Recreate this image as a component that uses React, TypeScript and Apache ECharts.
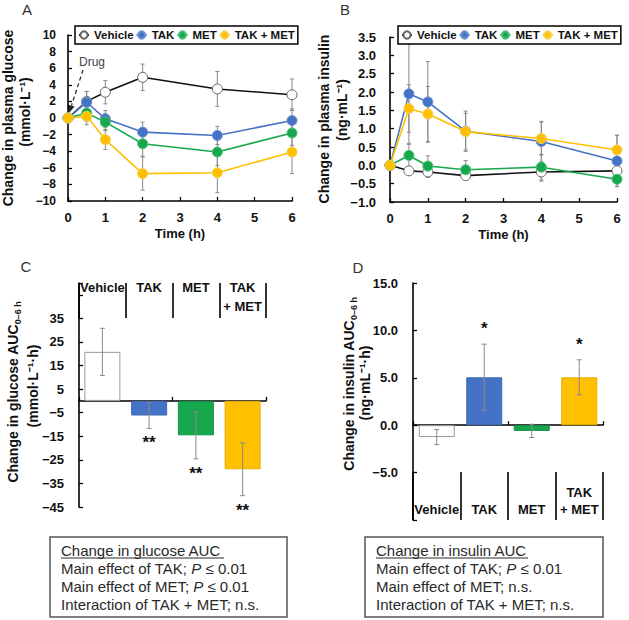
import React, { useEffect, useRef } from 'react';
import * as echarts from 'echarts';

const FONT = '"Liberation Sans", Arial, Helvetica, sans-serif';

// ---- Data ----
const times = [0, 0.5, 1, 2, 4, 6];
const groups = ['Vehicle', 'TAK', 'MET', 'TAK + MET'];
const barCategories = ['Vehicle', 'TAK', 'MET', 'TAK\n+ MET'];

const glucoseVehicle = [0, 2.0, 3.1, 4.9, 3.5, 2.8];
const glucoseVehicleErr = [0, 1.2, 1.4, 1.6, 2.1, 1.9];
const glucoseTak = [0, 1.9, -0.1, -1.7, -2.1, -0.3];
const glucoseTakErr = [0, 1.3, 1.0, 1.2, 1.1, 1.4];
const glucoseMet = [0, 0.6, -0.5, -3.1, -4.1, -1.8];
const glucoseMetErr = [0, 1.0, 1.0, 1.5, 1.6, 1.5];
const glucoseCombo = [0, 0.2, -2.6, -6.7, -6.6, -4.1];
const glucoseComboErr = [0, 1.0, 1.2, 2.0, 2.4, 2.6];

const insulinVehicle = [0, -0.15, -0.18, -0.28, -0.18, -0.15];
const insulinVehicleErr = [0, 0.12, 0.15, 0.1, 0.25, 0.1];
const insulinTak = [0, 1.95, 1.73, 0.93, 0.65, 0.12];
const insulinTakErr = [0, 1.35, 1.1, 0.55, 0.55, 0.7];
const insulinMet = [0, 0.27, -0.02, -0.12, -0.05, -0.38];
const insulinMetErr = [0, 0.3, 0.28, 0.25, 0.35, 0.2];
const insulinCombo = [0, 1.55, 1.4, 0.92, 0.73, 0.42];
const insulinComboErr = [0, 0.65, 0.75, 0.5, 0.45, 0.4];

const glucoseAuc = [20.8, -6.2, -14.6, -29.0];
const glucoseAucErr = [10, 5.5, 10, 11.2];
const glucoseAucSig = ['', '**', '**', '**'];
const insulinAuc = [-1.25, 5.05, -0.6, 5.05];
const insulinAucErr = [0.8, 3.5, 0.7, 1.85];
const insulinAucSig = ['', '*', '', '*'];

const glucoseTicks = { min: -10, max: 10, interval: 2 };
const insulinTicks = { min: -1, max: 3.5, interval: 0.5 };
const glucoseAucTicks = { min: -45, max: 50, interval: 10 };
const insulinAucTicks = { min: -10, max: 15, interval: 5 };

// ---- Styles ----
const BLUE = '#4472C4';
const GREEN = '#17A84E';
const YELLOW = '#FFC000';
const ERR = '#8a8a8a';

const minus = (s: string) => s.replace('-', '\u2212');

function lineSeries(name: string, values: number[], idx: number, line: string, fill: string, border: string) {
  return {
    type: 'line',
    name,
    xAxisIndex: idx,
    yAxisIndex: idx,
    data: times.map((t, i) => [t, values[i]]),
    symbol: 'circle',
    symbolSize: 10,
    lineStyle: { color: line, width: 1.6 },
    itemStyle: { color: fill, borderColor: border, borderWidth: 1 },
    z: 3,
    silent: true,
  };
}

function errLineSeries(values: number[], errs: number[], idx: number) {
  return {
    type: 'custom',
    xAxisIndex: idx,
    yAxisIndex: idx,
    silent: true,
    z: 2,
    data: times.map((t, i) => [t, values[i] - errs[i], values[i] + errs[i]]),
    renderItem: (params: any, api: any) => {
      const x = api.value(0);
      const lo = api.coord([x, api.value(1)]);
      const hi = api.coord([x, api.value(2)]);
      if (Math.abs(lo[1] - hi[1]) < 0.5) return null;
      const st = { stroke: ERR, lineWidth: 1 };
      const c = 2;
      return {
        type: 'group',
        children: [
          { type: 'line', shape: { x1: lo[0], y1: lo[1], x2: hi[0], y2: hi[1] }, style: st },
          { type: 'line', shape: { x1: lo[0] - c, y1: lo[1], x2: lo[0] + c, y2: lo[1] }, style: st },
          { type: 'line', shape: { x1: hi[0] - c, y1: hi[1], x2: hi[0] + c, y2: hi[1] }, style: st },
        ],
      };
    },
  };
}

function errBarSeries(values: number[], errs: number[], sig: string[], xIdx: number, yIdx: number, sigBelow: boolean) {
  return {
    type: 'custom',
    xAxisIndex: xIdx,
    yAxisIndex: yIdx,
    silent: true,
    z: 4,
    data: values.map((v, i) => [i, v - errs[i], v + errs[i]]),
    renderItem: (params: any, api: any) => {
      const x = api.value(0);
      const lo = api.coord([x, api.value(1)]);
      const hi = api.coord([x, api.value(2)]);
      const st = { stroke: ERR, lineWidth: 1 };
      const c = 2.5;
      const s = sig[params.dataIndex];
      const children: any[] = [
        { type: 'line', shape: { x1: lo[0], y1: lo[1], x2: hi[0], y2: hi[1] }, style: st },
        { type: 'line', shape: { x1: lo[0] - c, y1: lo[1], x2: lo[0] + c, y2: lo[1] }, style: st },
        { type: 'line', shape: { x1: hi[0] - c, y1: hi[1], x2: hi[0] + c, y2: hi[1] }, style: st },
      ];
      if (s) {
        children.push({
          type: 'text',
          style: {
            text: s,
            x: lo[0],
            y: sigBelow ? lo[1] + 6 : hi[1] - 7,
            align: 'center',
            verticalAlign: sigBelow ? 'top' : 'bottom',
            fontSize: 17,
            fontWeight: 'bold',
            fontFamily: FONT,
            fill: '#111',
          },
        });
      }
      return { type: 'group', children };
    },
  };
}

function barData(values: number[], colors: string[], borders: string[]) {
  return values.map((v, i) => ({
    value: v,
    itemStyle: { color: colors[i], borderColor: borders[i], borderWidth: 1 },
  }));
}

const axisLineStyle = { lineStyle: { color: '#000', width: 1.6 } };
const tickLabel = (size: number, margin: number, fmt: (v: number) => string) => ({
  fontSize: size,
  fontWeight: 'bold',
  fontFamily: FONT,
  color: '#111',
  margin,
  formatter: fmt,
});

function titleText(text: string, x: number, y: number, rich?: any) {
  return {
    type: 'text',
    x,
    y,
    rotation: Math.PI / 2,
    style: {
      text,
      align: 'center',
      verticalAlign: 'middle',
      fontSize: 14,
      fontWeight: 'bold',
      fontFamily: FONT,
      fill: '#111',
      rich,
    },
  };
}

const subRich = {
  a: { fontSize: 14, fontWeight: 'bold', fontFamily: FONT, fill: '#111', lineHeight: 18 },
  s: { fontSize: 9, fontWeight: 'bold', fontFamily: FONT, fill: '#111', verticalAlign: 'bottom', lineHeight: 18 },
};

const boxRich = {
  n: { fontSize: 15, fontFamily: FONT, fill: '#2a2a2a' },
  i: { fontSize: 15, fontFamily: FONT, fontStyle: 'italic', fill: '#2a2a2a' },
};

function boxGroup(x: number, y: number, w: number, h: number, title: string, underline: number, lines: string[]) {
  const children: any[] = [
    { type: 'rect', shape: { x, y, width: w, height: h }, style: { fill: '#fff', stroke: '#555', lineWidth: 1.5 } },
    {
      type: 'text',
      style: { text: title, x: x + 11, y: y + 13, verticalAlign: 'middle', fontSize: 15, fontFamily: FONT, fill: '#2a2a2a' },
    },
    { type: 'line', shape: { x1: x + 11, y1: y + 21, x2: x + 11 + underline, y2: y + 21 }, style: { stroke: '#2a2a2a', lineWidth: 1 } },
  ];
  lines.forEach((t, i) => {
    children.push({
      type: 'text',
      style: { text: t, x: x + 11, y: y + 31 + i * 18, verticalAlign: 'middle', rich: boxRich, fontSize: 15, fontFamily: FONT, fill: '#2a2a2a' },
    });
  });
  return children;
}

function letter(t: string, x: number, y: number) {
  return { type: 'text', style: { text: t, x, y, align: 'center', verticalAlign: 'middle', fontSize: 15, fontFamily: FONT, fill: '#333' } };
}

export default function App() {
  const ref = useRef<HTMLDivElement>(null);
  useEffect(() => {
    document.body.style.margin = '0';
    if (!ref.current) return;
    const chart = echarts.init(ref.current, undefined, { renderer: 'svg' });

    const legendCommon = {
      data: groups,
      orient: 'horizontal',
      top: 26,
      width: 300,
      borderColor: '#000',
      borderWidth: 1.5,
      padding: [3, 3, 3, 3],
      itemGap: 2,
      itemWidth: 10,
      itemHeight: 9,
      selectedMode: false,
      textStyle: { fontSize: 11.5, fontWeight: 'bold', fontFamily: FONT, color: '#111' },
    };

    const option: any = {
      animation: false,
      backgroundColor: '#fff',
      textStyle: { fontFamily: FONT },
      legend: [
        { ...legendCommon, left: 75 },
        { ...legendCommon, left: 398 },
      ],
      grid: [
        { left: 68, top: 35, width: 224, height: 166 },
        { left: 390, top: 37, width: 227, height: 165 },
        { left: 79, top: 283, width: 187, height: 224 },
        { left: 413, top: 283, width: 190, height: 237 },
      ],
      xAxis: [
        {
          type: 'value', gridIndex: 0, min: 0, max: 6, interval: 1,
          axisLine: { onZero: false, ...axisLineStyle },
          axisTick: { show: true, inside: true, length: 4, lineStyle: { color: '#000', width: 1.3 } },
          axisLabel: tickLabel(13, 10, (v: number) => String(v)),
          splitLine: { show: false },
          name: 'Time (h)', nameLocation: 'middle', nameGap: 26,
          nameTextStyle: { fontSize: 13, fontWeight: 'bold', fontFamily: FONT, color: '#111' },
        },
        {
          type: 'value', gridIndex: 1, min: 0, max: 6, interval: 1,
          axisLine: { onZero: false, ...axisLineStyle },
          axisTick: { show: true, inside: true, length: 4, lineStyle: { color: '#000', width: 1.3 } },
          axisLabel: tickLabel(13, 10, (v: number) => String(v)),
          splitLine: { show: false },
          name: 'Time (h)', nameLocation: 'middle', nameGap: 26,
          nameTextStyle: { fontSize: 13, fontWeight: 'bold', fontFamily: FONT, color: '#111' },
        },
        {
          type: 'category', gridIndex: 2, data: barCategories, position: 'bottom',
          axisLine: { onZero: true, ...axisLineStyle },
          axisTick: { show: true, inside: true, length: 4, lineStyle: { color: '#000', width: 1.3 } },
          axisLabel: { show: false },
        },
        {
          type: 'category', gridIndex: 2, data: barCategories, position: 'top',
          axisLine: { show: false, onZero: false },
          axisTick: { show: true, inside: true, length: 35, interval: 0, lineStyle: { color: '#000', width: 1.6 } },
          axisLabel: {
            inside: true, interval: 0, margin: -5, fontSize: 13, fontWeight: 'bold', fontFamily: FONT,
            color: '#111', lineHeight: 19,
          },
        },
        {
          type: 'category', gridIndex: 3, data: barCategories, position: 'top',
          axisLine: { onZero: true, ...axisLineStyle },
          axisTick: { show: true, inside: false, length: 4, lineStyle: { color: '#000', width: 1.3 } },
          axisLabel: { show: false },
        },
        {
          type: 'category', gridIndex: 3, data: barCategories, position: 'bottom',
          axisLine: { show: false, onZero: false },
          axisTick: { show: true, inside: true, length: 48, interval: 0, lineStyle: { color: '#000', width: 1.6 } },
          axisLabel: {
            inside: true, interval: 0, margin: 2, fontSize: 13, fontWeight: 'bold', fontFamily: FONT,
            color: '#111', lineHeight: 17,
          },
        },
      ],
      yAxis: [
        {
          type: 'value', gridIndex: 0, ...glucoseTicks,
          axisLine: { show: true, onZero: false, ...axisLineStyle },
          axisTick: { show: true, inside: true, length: 4, lineStyle: { color: '#000', width: 1.3 } },
          axisLabel: tickLabel(12, 12, (v: number) => minus(String(v))),
          splitLine: { show: false },
        },
        {
          type: 'value', gridIndex: 1, ...insulinTicks,
          axisLine: { show: true, onZero: false, ...axisLineStyle },
          axisTick: { show: true, inside: true, length: 4, lineStyle: { color: '#000', width: 1.3 } },
          axisLabel: tickLabel(13, 14, (v: number) => minus(v.toFixed(1))),
          splitLine: { show: false },
        },
        {
          type: 'value', gridIndex: 2, ...glucoseAucTicks,
          axisLine: { show: true, onZero: false, ...axisLineStyle },
          axisTick: { show: true, inside: true, length: 4, lineStyle: { color: '#000', width: 1.3 } },
          axisLabel: tickLabel(13, 15, (v: number) => (v > 40 ? '' : minus(String(v)))),
          splitLine: { show: false },
        },
        {
          type: 'value', gridIndex: 3, ...insulinAucTicks,
          axisLine: { show: true, onZero: false, ...axisLineStyle },
          axisTick: { show: true, inside: true, length: 4, lineStyle: { color: '#000', width: 1.3 } },
          axisLabel: tickLabel(13, 15, (v: number) => (v < -7 ? '' : minus(v.toFixed(1)))),
          splitLine: { show: false },
        },
      ],
      series: [
        errLineSeries(glucoseVehicle, glucoseVehicleErr, 0),
        errLineSeries(glucoseTak, glucoseTakErr, 0),
        errLineSeries(glucoseMet, glucoseMetErr, 0),
        errLineSeries(glucoseCombo, glucoseComboErr, 0),
        lineSeries('Vehicle', glucoseVehicle, 0, '#111', '#fff', '#666'),
        lineSeries('TAK', glucoseTak, 0, BLUE, BLUE, '#6f92d0'),
        lineSeries('MET', glucoseMet, 0, GREEN, GREEN, '#4cbf77'),
        lineSeries('TAK + MET', glucoseCombo, 0, YELLOW, YELLOW, '#f6cf55'),

        errLineSeries(insulinVehicle, insulinVehicleErr, 1),
        errLineSeries(insulinTak, insulinTakErr, 1),
        errLineSeries(insulinMet, insulinMetErr, 1),
        errLineSeries(insulinCombo, insulinComboErr, 1),
        lineSeries('Vehicle', insulinVehicle, 1, '#111', '#fff', '#666'),
        lineSeries('TAK', insulinTak, 1, BLUE, BLUE, '#6f92d0'),
        lineSeries('MET', insulinMet, 1, GREEN, GREEN, '#4cbf77'),
        lineSeries('TAK + MET', insulinCombo, 1, YELLOW, YELLOW, '#f6cf55'),

        {
          type: 'bar', xAxisIndex: 2, yAxisIndex: 2, barWidth: 36, silent: true, z: 3,
          data: barData(glucoseAuc, ['#fff', BLUE, GREEN, YELLOW], ['#999', '#3f69b5', '#139245', '#e6ad00']),
        },
        errBarSeries(glucoseAuc, glucoseAucErr, glucoseAucSig, 2, 2, true),
        {
          type: 'bar', xAxisIndex: 4, yAxisIndex: 3, barWidth: 36, silent: true, z: 3,
          data: barData(insulinAuc, ['#fff', BLUE, GREEN, YELLOW], ['#999', '#3f69b5', '#139245', '#e6ad00']),
        },
        errBarSeries(insulinAuc, insulinAucErr, insulinAucSig, 4, 3, false),
      ],
      graphic: [
        letter('A', 27, 9),
        letter('B', 345, 9),
        letter('C', 26, 266),
        letter('D', 358, 267),
        titleText('Change in plasma glucose', 8, 118),
        titleText('(mmol·L\u207B\u00B9)', 25, 112),
        titleText('Change in plasma insulin', 324, 119),
        titleText('(ng·mL\u207B\u00B9)', 342, 110),
        titleText('{a|Change in glucose AUC}{s|0\u20136 h}', 13, 392, subRich),
        titleText('(mmol·L\u207B\u00B9·h)', 33, 386),
        titleText('{a|Change in insulin AUC}{s|0\u20136 h}', 349, 384, subRich),
        titleText('(ng·mL\u207B\u00B9·h)', 365, 383),
        {
          type: 'text',
          style: { text: 'Drug', x: 92, y: 62, align: 'center', verticalAlign: 'middle', fontSize: 12, fontFamily: FONT, fill: '#444' },
        },
        {
          type: 'line',
          shape: { x1: 83, y1: 70, x2: 71.5, y2: 105.5 },
          style: { stroke: '#222', lineWidth: 1.2, lineDash: [4, 3] },
        },
        {
          type: 'polygon',
          shape: { points: [[69, 113], [74.5, 106.5], [67.5, 104.5]] },
          style: { fill: '#222' },
        },
        ...boxGroup(50, 537, 237, 80, 'Change in glucose AUC', 163, [
          '{n|Main effect of TAK; }{i|P}{n| \u2264 0.01}',
          '{n|Main effect of MET; }{i|P}{n| \u2264 0.01}',
          '{n|Interaction of TAK + MET; n.s.}',
        ]),
        ...boxGroup(365, 537, 238, 80, 'Change in insulin AUC', 152, [
          '{n|Main effect of TAK; }{i|P}{n| \u2264 0.01}',
          '{n|Main effect of MET; n.s.}',
          '{n|Interaction of TAK + MET; n.s.}',
        ]),
      ],
    };
    chart.setOption(option);
    return () => chart.dispose();
  }, []);
  return <div ref={ref} style={{ position: 'fixed', left: 0, top: 0, width: 629, height: 620 }} />;
}
